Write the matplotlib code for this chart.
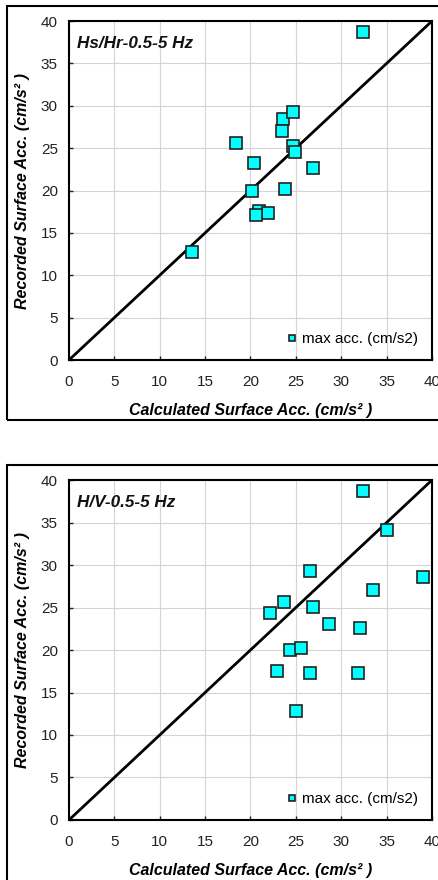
import matplotlib
matplotlib.use('Agg')
import matplotlib.pyplot as plt
from matplotlib.patches import Rectangle

plt.rcParams['font.family'] = ['Liberation Sans', 'DejaVu Sans']

# Hs/Hr 0.5-5 Hz: calculated vs recorded max surface acceleration (cm/s2)
hshr_calc = [32.4, 18.4, 20.4, 20.2, 23.6, 24.7, 23.5, 24.7, 24.9, 26.9, 23.8, 20.9, 21.9, 20.6, 13.5]
hshr_rec = [38.7, 25.6, 23.2, 19.9, 28.4, 29.3, 27.0, 25.2, 24.5, 22.7, 20.2, 17.6, 17.3, 17.1, 12.7]

# H/V 0.5-5 Hz
hv_calc = [32.4, 35.0, 39.0, 26.6, 33.5, 23.7, 22.1, 26.9, 28.7, 32.1, 24.4, 25.6, 22.9, 26.6, 31.8, 25.0]
hv_rec = [38.7, 34.1, 28.6, 29.3, 27.1, 25.7, 24.4, 25.1, 23.1, 22.6, 20.0, 20.2, 17.5, 17.3, 17.3, 12.8]

ticks = [0, 5, 10, 15, 20, 25, 30, 35, 40]
panels = [
    ('Hs/Hr-0.5-5 Hz', hshr_calc, hshr_rec, [0.1575, 0.5909, 0.8288, 0.3852], (0.016, 0.5227, 1.0, 0.4705)),
    ('H/V-0.5-5 Hz', hv_calc, hv_rec, [0.1575, 0.0682, 0.8288, 0.3863], (0.016, -0.02, 1.0, 0.4916)),
]

fig = plt.figure(figsize=(4.38, 8.8), dpi=100)

for title, calc, rec, pos, box in panels:
    # outer frame around each chart
    fig.patches.append(Rectangle((box[0], box[1]), box[2], box[3], transform=fig.transFigure,
                                 fill=False, edgecolor='black', lw=1.5, zorder=0))
    ax = fig.add_axes(pos)
    ax.set_xlim(0, 40)
    ax.set_ylim(0, 40)
    ax.set_xticks(ticks)
    ax.set_yticks(ticks)
    ax.grid(True, color='#d4d4d4', lw=0.8)
    ax.set_axisbelow(True)
    ax.tick_params(direction='in', length=3, width=1, labelsize=11, colors='#222222')
    ax.tick_params(axis='x', pad=11)
    ax.tick_params(axis='y', pad=8)
    for s in ax.spines.values():
        s.set_linewidth(1.5)
        s.set_color('black')
    ax.plot([0, 40], [0, 40], color='black', lw=2, zorder=2)
    ax.plot(calc, rec, ls='none', marker='s', ms=9, mfc='#00ffff', mec='#222222', mew=1.2,
            label='max acc. (cm/s2)', zorder=3)
    ax.text(0.022, 0.955, title, transform=ax.transAxes, ha='left', va='top',
            fontsize=12.3, fontweight='bold', fontstyle='italic', color='#111111')
    ax.set_xlabel('Calculated Surface Acc. (cm/s² )', fontsize=11.5, fontweight='bold',
                  fontstyle='italic', labelpad=10)
    ax.set_ylabel('Recorded Surface Acc. (cm/s² )', fontsize=11.5, fontweight='bold',
                  fontstyle='italic', labelpad=8)
    ax.legend(loc='lower right', frameon=False, fontsize=11, handlelength=0.6,
              handletextpad=0.4, markerscale=0.55, borderaxespad=0.5)

fig.savefig('out.png', dpi=100)
